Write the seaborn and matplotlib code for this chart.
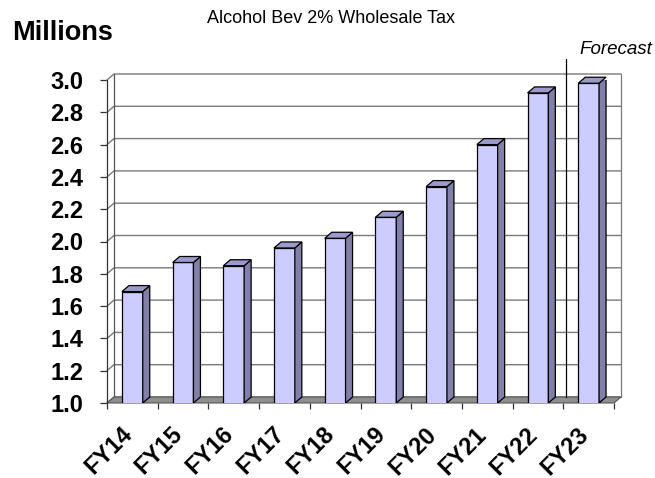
import matplotlib.pyplot as plt
import matplotlib.transforms as mtransforms
from matplotlib.patches import Polygon
import numpy as np
import pandas as pd
import seaborn as sns

# data (millions)
years = ["FY14", "FY15", "FY16", "FY17", "FY18", "FY19", "FY20", "FY21", "FY22", "FY23"]
revenue = [1.69, 1.87, 1.85, 1.96, 2.02, 2.15, 2.34, 2.60, 2.92, 2.98]
y_ticks = [1.0, 1.2, 1.4, 1.6, 1.8, 2.0, 2.2, 2.4, 2.6, 2.8, 3.0]
first_forecast = "FY23"

sns.set_theme(style="white")
plt.rcParams["font.family"] = ["Liberation Sans", "DejaVu Sans"]
plt.rcParams["text.color"] = "black"
plt.rcParams["xtick.color"] = "black"
plt.rcParams["ytick.color"] = "black"

fig = plt.figure(figsize=(6.55, 4.78), dpi=100)
ax = fig.add_axes([107 / 655, 1 - 403 / 478, 507 / 655, 323 / 478])

df = pd.DataFrame({"year": years, "value": revenue})
sns.barplot(data=df, x="year", y="value", color="#ccccff", saturation=1,
            width=0.41, edgecolor="black", linewidth=0.9, ax=ax, zorder=4)
bars = list(ax.patches)

ax.set_xlim(-0.5, len(years) - 0.5)
ax.set_ylim(y_ticks[0], y_ticks[-1])
for s in ax.spines.values():
    s.set_visible(False)

# depth of the pseudo 3D box, in pixels -> data units
fig.canvas.draw()
p0 = ax.transData.transform((0, 1.0))
p1 = ax.transData.transform((1, 2.0))
ddx = 7 / (p1[0] - p0[0])
ddy = 6 / (p1[1] - p0[1])
x_lo, x_hi = ax.get_xlim()
y_lo, y_hi = ax.get_ylim()

# floor
floor = Polygon([(x_lo, y_lo), (x_hi, y_lo), (x_hi + ddx, y_lo + ddy), (x_lo + ddx, y_lo + ddy)],
                closed=True, facecolor="#8f8f8f", edgecolor="#555555", lw=0.8,
                zorder=2, clip_on=False)
ax.add_patch(floor)

# side wall + back wall gridlines
for v in y_ticks:
    ax.plot([x_lo, x_lo + ddx, x_hi + ddx], [v, v + ddy, v + ddy],
            color="#7a7a7a", lw=1.0, zorder=1, clip_on=False)
ax.plot([x_lo + ddx, x_lo + ddx], [y_lo + ddy, y_hi + ddy], color="#555555", lw=0.9, zorder=1, clip_on=False)
ax.plot([x_hi + ddx, x_hi + ddx], [y_lo + ddy, y_hi + ddy], color="#7a7a7a", lw=0.9, zorder=1, clip_on=False)
ax.plot([x_lo, x_lo], [y_lo, y_hi], color="#333333", lw=0.9, zorder=3, clip_on=False)

# forecast divider
fx = years.index(first_forecast) - 0.5 + ddx * 0.4
ax.plot([fx, fx], [y_lo + ddy, 3.13], color="black", lw=0.9, zorder=3, clip_on=False)

# 3D faces for each bar
for b in bars:
    x0 = b.get_x()
    w = b.get_width()
    h = b.get_height()
    side = Polygon([(x0 + w, y_lo), (x0 + w + ddx, y_lo + ddy), (x0 + w + ddx, h + ddy), (x0 + w, h)],
                   closed=True, facecolor="#8080a8", edgecolor="black", lw=0.9, zorder=4)
    top = Polygon([(x0, h), (x0 + ddx, h + ddy), (x0 + w + ddx, h + ddy), (x0 + w, h)],
                  closed=True, facecolor="#9a9acc", edgecolor="black", lw=0.9, zorder=4, clip_on=False)
    ax.add_patch(side)
    ax.add_patch(top)

# ticks and labels
ax.set_yticks(y_ticks)
ax.set_yticklabels(["%.1f" % v for v in y_ticks], fontsize=17, fontweight="bold")
ax.tick_params(axis="y", which="major", left=True, length=5, width=0.9, color="#333333", pad=12)

ax.set_xticks(np.arange(len(years)))
ax.set_xticks(np.arange(len(years) + 1) - 0.5, minor=True)
ax.set_xticklabels(years, fontsize=17, fontweight="bold", rotation=45,
                   ha="right", va="center", rotation_mode="anchor")
ax.tick_params(axis="x", which="major", length=0, pad=20)
ax.tick_params(axis="x", which="minor", bottom=True, length=4.5, width=0.9, color="#333333")
shift = mtransforms.ScaledTranslation(-0.04, 0, fig.dpi_scale_trans)
for lab in ax.get_xticklabels():
    lab.set_transform(lab.get_transform() + shift)
ax.set_xlabel("")
ax.set_ylabel("")

fig.text(0.019, 1 - 40 / 478, "Millions", fontsize=19.5, fontweight="bold", va="baseline")
fig.text(331 / 655, 1 - 23 / 478, "Alcohol Bev 2% Wholesale Tax", fontsize=13, ha="center", va="baseline")
fig.text(652 / 655, 1 - 54 / 478, "Forecast", fontsize=13.5, style="italic", ha="right", va="baseline")

fig.savefig("out.png", dpi=100, facecolor="white")
